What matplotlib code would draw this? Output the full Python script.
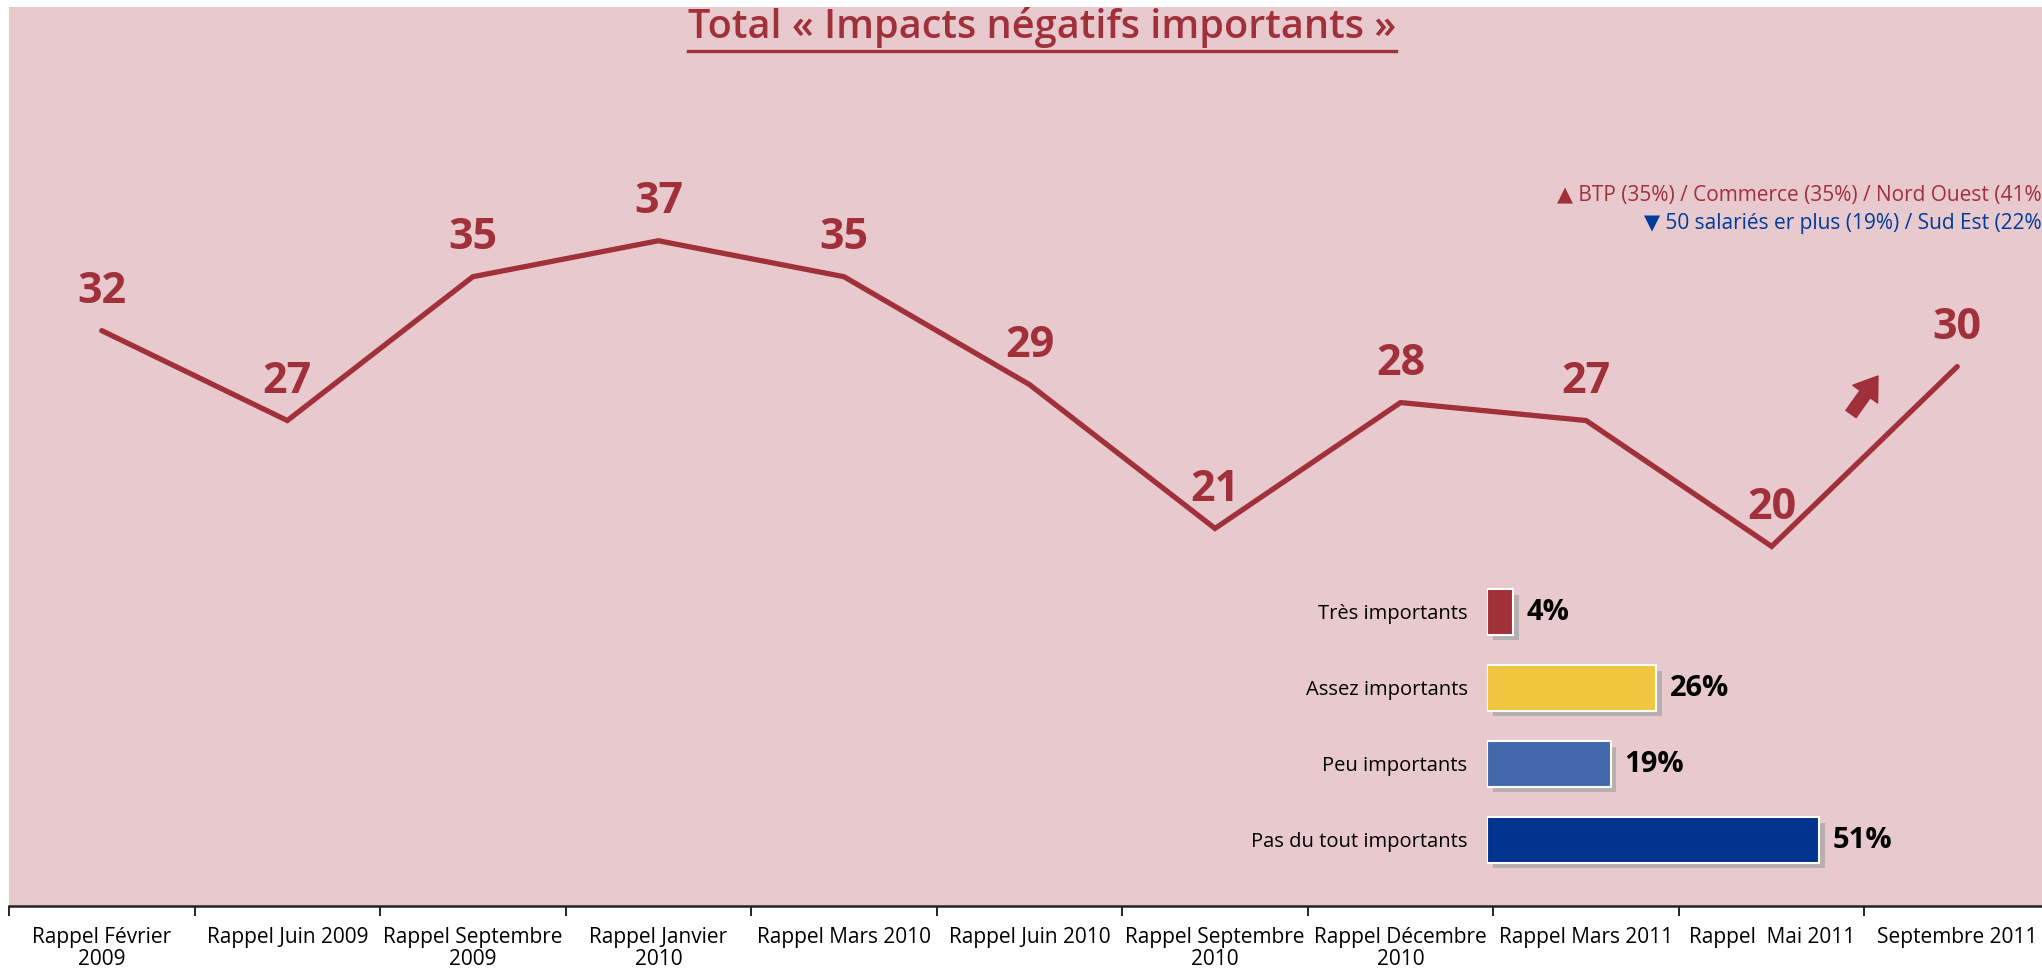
import matplotlib.pyplot as plt
import matplotlib.patheffects as pe
from matplotlib.lines import Line2D

# Data
categories = ["Rappel Février\n2009", "Rappel Juin 2009", "Rappel Septembre\n2009",
              "Rappel Janvier\n2010", "Rappel Mars 2010", "Rappel Juin 2010",
              "Rappel Septembre\n2010", "Rappel Décembre\n2010", "Rappel Mars 2011",
              "Rappel  Mai 2011", "Septembre 2011"]
values = [32, 27, 35, 37, 35, 29, 21, 28, 27, 20, 30]

bar_labels = ["Très importants", "Assez importants", "Peu importants", "Pas du tout importants"]
bar_values = [4, 26, 19, 51]
bar_colors = ["#A0303A", "#F0C640", "#4068AA", "#00348F"]

note_up = "▲ BTP (35%) / Commerce (35%) / Nord Ouest (41%)"
note_down = "▼ 50 salariés er plus (19%) / Sud Est (22%)"
title = "Total « Impacts négatifs importants »"

RED = "#A0303A"
BLUE = "#003A9A"
PINK = "#E8CACE"
REG = ["Open Sans", "DejaVu Sans"]
BOLD = ["Open Sans", "DejaVu Sans"]

W, H = 2042, 968
fig = plt.figure(figsize=(W / 100, H / 100), dpi=100)
fig.patch.set_facecolor("white")

# main line chart
ax = fig.add_axes([9 / W, 62 / H, (2050 - 9) / W, (961 - 62) / H])
ax.set_facecolor(PINK)
n = len(values)
x = list(range(n))
ax.plot(x, values, color=RED, lw=3.8, solid_capstyle="round", solid_joinstyle="miter")
for i, v in zip(x, values):
    ax.annotate(str(v), (i, v), xytext=(0, 28), textcoords="offset points",
                ha="center", va="center", fontsize=31, fontweight="bold",
                color=RED, family=BOLD)
ax.set_xlim(-0.5, n - 0.5)
ax.set_ylim(0, 50)
ax.set_yticks([])
ax.set_xticks([i - 0.5 for i in range(n + 1)])
ax.set_xticklabels([])
ax.set_xticks(x, minor=True)
ax.set_xticklabels(categories, minor=True, fontsize=15, family=REG, linespacing=1.05)
ax.tick_params(axis="x", which="major", direction="out", length=7, width=1.2, color="black")
ax.tick_params(axis="x", which="minor", length=0, pad=15)
for s in ["top", "left", "right"]:
    ax.spines[s].set_visible(False)
ax.spines["bottom"].set_linewidth(1.8)
ax.spines["bottom"].set_color("#222222")

# inset bar chart
ax2 = fig.add_axes([1487 / W, 90 / H, 390.6 / W, 304 / H])
ax2.set_facecolor("none")
ypos = list(range(len(bar_values)))
bars = ax2.barh(ypos, bar_values, height=0.6, color=bar_colors, edgecolor="white", linewidth=1.5)
for b in bars:
    b.set_path_effects([pe.SimplePatchShadow(offset=(4, -4), shadow_rgbFace="#a9a9a9", alpha=0.8), pe.Normal()])
for y, v in zip(ypos, bar_values):
    ax2.annotate(f"{v}%", (v, y), xytext=(10, 0), textcoords="offset points",
                 ha="left", va="center", fontsize=21, fontweight="bold",
                 color="black", family=BOLD)
ax2.set_xlim(0, 60)
ax2.set_ylim(3.5, -0.5)
ax2.set_xticks([])
ax2.set_yticks(ypos)
ax2.set_yticklabels(bar_labels, fontsize=14.5, family=REG)
ax2.tick_params(axis="y", length=0, pad=14)
for s in ax2.spines.values():
    s.set_visible(False)

# notes top right (cut at the right edge as in the source)
fig.text(2048 / W, 1 - 195 / H, note_up, ha="right", va="center", fontsize=15,
         color=RED, family=REG)
fig.text(2048 / W, 1 - 223 / H, note_down, ha="right", va="center", fontsize=15,
         color=BLUE, family=REG)

# trend arrow
ax.annotate("", xy=(1878, H - 376), xytext=(1851, H - 414),
            xycoords="figure pixels", textcoords="figure pixels",
            arrowprops=dict(arrowstyle="simple,head_width=1.1,head_length=0.8,tail_width=0.45",
                            color=RED, mutation_scale=20, shrinkA=0, shrinkB=0))

# title with underline
t = fig.text(1042 / W, 1 - 27 / H, title, ha="center", va="center", fontsize=28.5,
             fontweight="semibold", color=RED, family=REG)
fig.canvas.draw()
bb = t.get_window_extent(fig.canvas.get_renderer())
yl = bb.y0 - 3
fig.add_artist(Line2D([bb.x0 / W, bb.x1 / W], [yl / H, yl / H], color=RED, lw=2.4,
                      transform=fig.transFigure))

fig.savefig("out.png", dpi=100)
